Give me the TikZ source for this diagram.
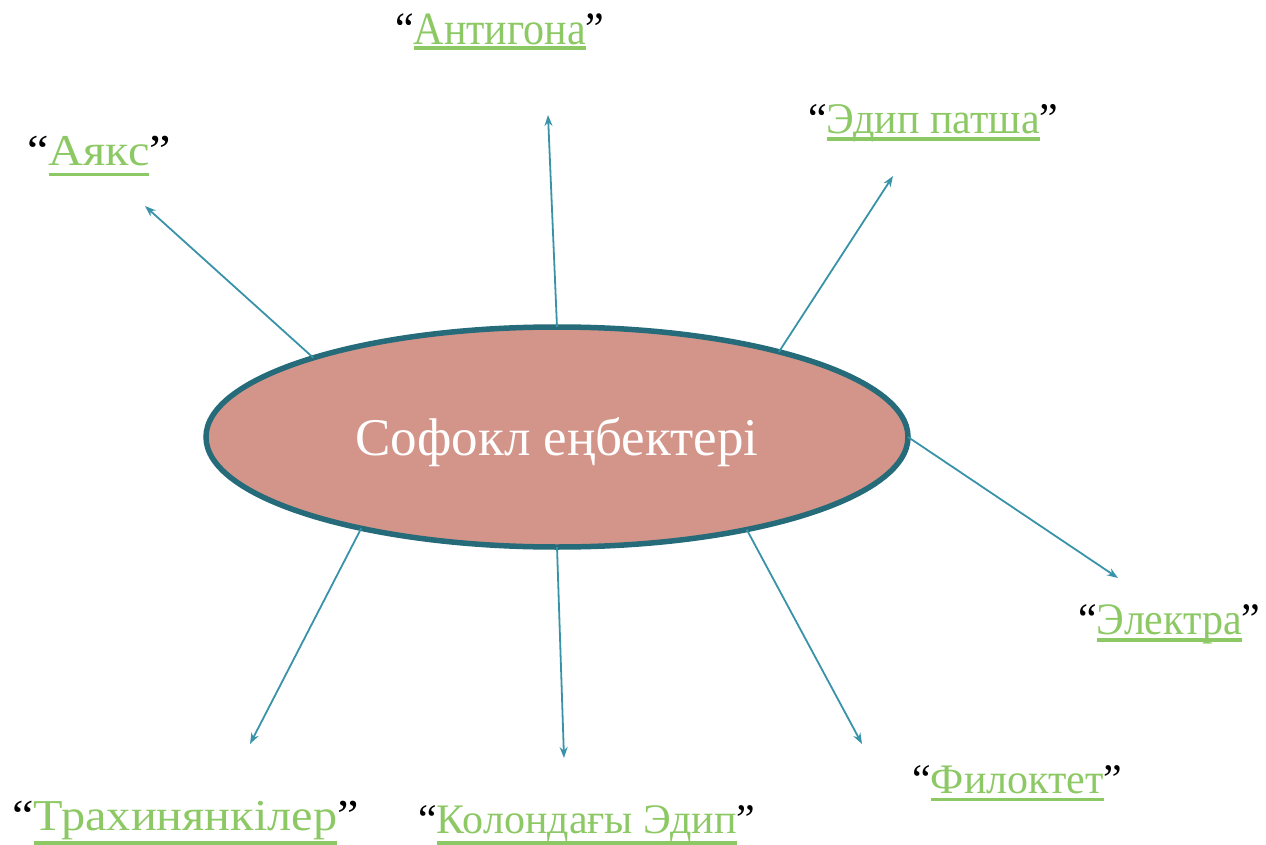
\documentclass[tikz,border=0pt]{standalone}
\usepackage{fontspec}
\setmainfont{Liberation Serif}
\usetikzlibrary{arrows.meta,shapes.geometric}
\definecolor{fillc}{HTML}{D3958A}
\definecolor{bord}{HTML}{256B7A}
\definecolor{arr}{HTML}{3893A8}
\definecolor{grn}{HTML}{8CC864}
% #1 depth of underline bottom, #2 content
\newcommand{\myul}[2]{\setbox0\hbox{#2}\rlap{\rule[-#1]{\wd0}{3.8pt}}\box0}
% #1 xscale, #2 yscale, #3 underline depth, #4 title
\newcommand{\worktitle}[4]{\scalebox{#1}[#2]{“}{\color{grn}\myul{#3}{\scalebox{#1}[#2]{#4}}}\scalebox{#1}[#2]{”}}
\begin{document}
\begin{tikzpicture}[x=1pt,y=-1pt,
  lab/.style={anchor=base west,inner sep=0pt,font=\fontsize{42}{50}\selectfont},
  link/.style={draw=arr,line width=1.8pt,-{Stealth[length=11pt,width=8pt]}}]
\useasboundingbox (0,0) rectangle (1266,845);
\node[ellipse,draw=bord,line width=5.5pt,fill=fillc,minimum width=702pt,minimum height=220pt,inner sep=0pt,outer sep=0pt] (E) at (557,437) {};
\node[anchor=base,text=white,inner sep=0pt,font=\fontsize{53}{62}\selectfont] (T) at (557,455) {Софокл еңбектері};
% labels
\node[lab] (L1) at (395,44.5) {\worktitle{1.0}{1.1}{5.7pt}{Антигона}};
\node[lab] (L2) at (27,166) {\worktitle{1.15}{1.05}{10.5pt}{Аякс}};
\node[lab] (L3) at (808,133.3) {\worktitle{1.0}{1.04}{7.5pt}{Эдип патша}};
\node[lab] (L4) at (1078,634.3) {\worktitle{1.0}{1.07}{7.5pt}{Электра}};
\node[lab] (L5) at (912,793.3) {\worktitle{1.0}{1.0}{8pt}{Филоктет}};
\node[lab] (L6) at (418,833) {\worktitle{1.0}{1.0}{11.5pt}{Колондағы Эдип}};
\node[lab] (L7) at (12,830) {\worktitle{1.15}{1.05}{15pt}{Трахинянкілер}};
% arrow ends
\coordinate (e1) at (548,115);
\coordinate (e2) at (145,206);
\coordinate (e3) at (893,176);
\coordinate (e4) at (1118,578);
\coordinate (e5) at (862,744);
\coordinate (e6) at (564,758);
\coordinate (e7) at (250,744);
\draw[link] (E.90.5) -- (e1);
\draw[link] (E.162) -- (e2);
\draw[link] (E.21) -- (e3);
\draw[link] (E.0) -- (e4);
\draw[link] (E.-26) -- (e5);
\draw[link] (E.-90) -- (e6);
\draw[link] (E.205.8) -- (e7);
\end{tikzpicture}
\end{document}
